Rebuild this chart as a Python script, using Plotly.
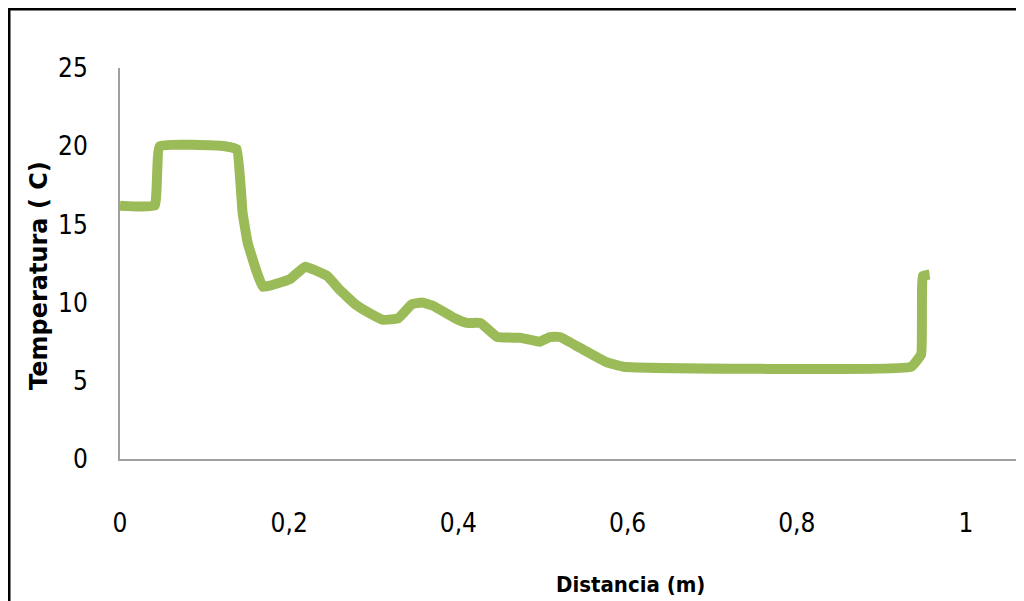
import plotly.graph_objects as go

distancia = [0, 0.041, 0.047, 0.124, 0.138, 0.145, 0.151, 0.162, 0.169, 0.201,
             0.219, 0.245, 0.260, 0.278, 0.296, 0.311, 0.329, 0.345, 0.357, 0.370,
             0.396, 0.410, 0.426, 0.446, 0.473, 0.496, 0.508, 0.520, 0.544, 0.575,
             0.595, 0.935, 0.947, 0.949, 0.957]
temperatura = [16.2, 16.2, 20.0, 20.0, 19.8, 15.7, 13.8, 11.9, 11.0, 11.5,
               12.3, 11.7, 10.8, 9.9, 9.3, 8.9, 9.0, 9.9, 10.0, 9.8,
               9.0, 8.7, 8.7, 7.8, 7.75, 7.5, 7.8, 7.8, 7.1, 6.2,
               5.9, 5.9, 6.7, 11.7, 11.8]

x_ticks = [0, 0.2, 0.4, 0.6, 0.8, 1]
x_ticklabels = ["0", "0,2", "0,4", "0,6", "0,8", "1"]
y_ticks = [0, 5, 10, 15, 20, 25]

# the page body adds an 8 px offset; figure pixels = screen pixels - OFF
OFF = 8
W, H = 1024 - OFF, 601 - OFF
L, R, T, B = 120 - OFF, 0, 68 - OFF, 142
pw, ph = W - L - R, H - T - B

def px_x(p):
    return (p - OFF - L) / pw

def px_y(p):
    return (H - B - (p - OFF)) / ph

tick_font = dict(family="Liberation Sans Narrow, Arial Narrow, DejaVu Sans Condensed, sans-serif",
                 size=26, color="#000000")

fig = go.Figure()
fig.add_trace(go.Scatter(
    x=distancia, y=temperatura, mode="lines",
    line=dict(color="#9BBB59", width=10, shape="spline", smoothing=0.3),
    hoverinfo="skip", showlegend=False,
))

fig.update_layout(
    width=W, height=H,
    margin=dict(l=L, r=R, t=T, b=B, pad=0),
    paper_bgcolor="white", plot_bgcolor="white",
    xaxis=dict(range=[0, (1024 - 120) / 846], tickvals=x_ticks, ticktext=x_ticklabels,
               showgrid=False, zeroline=False, showline=True,
               linecolor="#A0A0A0", linewidth=2, ticks="",
               tickfont=tick_font, ticklabelstandoff=40),
    yaxis=dict(range=[0, 25], tickvals=y_ticks,
               showgrid=False, zeroline=False, showline=True,
               linecolor="#A0A0A0", linewidth=2, ticks="",
               tickfont=tick_font, ticklabelstandoff=25),
    shapes=[
        dict(type="line", xref="paper", yref="paper",
             x0=px_x(OFF), x1=px_x(1040), y0=px_y(OFF), y1=px_y(OFF),
             line=dict(color="black", width=5)),
        dict(type="line", xref="paper", yref="paper",
             x0=px_x(OFF), x1=px_x(OFF), y0=px_y(OFF), y1=px_y(620),
             line=dict(color="black", width=5)),
    ],
    annotations=[
        dict(text="<b>Distancia (m)</b>", xref="paper", yref="paper",
             x=px_x(630), y=px_y(584), showarrow=False,
             xanchor="center", yanchor="middle",
             font=dict(family="Liberation Sans Narrow, Arial Narrow, DejaVu Sans Condensed, sans-serif",
                       size=22, color="#000000")),
        dict(text="<b>Temperatura ( C)</b>", xref="paper", yref="paper",
             x=px_x(39), y=px_y(276), showarrow=False, textangle=-90,
             xanchor="center", yanchor="middle",
             font=dict(family="DejaVu Sans, sans-serif", size=24, color="#000000")),
    ],
)

fig.write_html("out.html")
